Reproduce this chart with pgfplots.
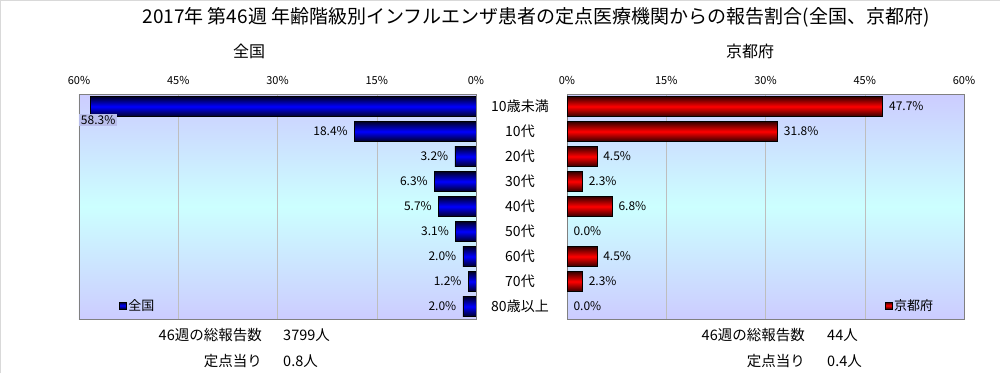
\documentclass[border=0pt]{standalone}
\usepackage{pgfplots}
\pgfplotsset{compat=1.18}
\usepackage{fontspec}
\setmainfont{Noto Sans CJK JP}
\definecolor{lav}{RGB}{204,204,255}
\definecolor{cyn}{RGB}{204,255,255}
\definecolor{gridc}{RGB}{190,190,190}
\definecolor{framec}{RGB}{128,128,128}
\pgfplotsset{
  panel/.style={
    scale only axis, width=397pt, height=225pt,
    xbar, bar width=20pt, bar shift=0pt,
    xmin=0, xmax=60, ymin=-0.5, ymax=8.5, y dir=reverse,
    xtick={0,15,30,45,60},
    xticklabels={0\%,15\%,30\%,45\%,60\%},
    xticklabel pos=upper,
    xticklabel style={font=\fontsize{11}{11}\selectfont, yshift=6pt},
    ytick={0,...,8},
    major tick length=0pt,
    xmajorgrids, grid style={gridc},
    axis line style={framec},
    axis background/.style={top color=lav, bottom color=lav, middle color=cyn},
    /pgf/number format/assume math mode=true,
    point meta=x,
    nodes near coords={\pgfmathprintnumber[fixed,fixed zerofill,precision=1]{\pgfplotspointmeta}\%},
    every node near coord/.append style={font=\fontsize{12}{12}\selectfont, text=black},
    legend style={draw=none, fill=none, font=\fontsize{13}{13}\selectfont, inner sep=0pt,
      legend cell align=left},
  },
  lb/.style={draw=black, top color=blue!15!black, bottom color=blue!15!black, middle color=blue,
    every node near coord/.append style={anchor=east, xshift=-3pt}, forget plot},
  rb/.style={draw=black, top color=red!20!black, bottom color=red!20!black, middle color=red,
    every node near coord/.append style={anchor=west, xshift=3pt}, forget plot},
}
\begin{document}
\begin{tikzpicture}
\useasboundingbox (0,0) rectangle (1006pt,373pt);
\draw[black!15] (0.5pt,0pt) -- (0.5pt,372.5pt) -- (1000pt,372.5pt);
% Left panel
\begin{axis}[panel, at={(79pt,54pt)}, anchor=south west,
  x dir=reverse,
  yticklabel pos=right,
  yticklabels={10歳未満,10代,20代,30代,40代,50代,60代,70代,80歳以上},
  yticklabel style={anchor=center, xshift=44pt, font=\fontsize{14}{14}\selectfont},
  legend style={at={(0.1,0.06)}, anchor=west},
  legend image code/.code={\draw[fill=blue, draw=black] (0pt,-3.5pt) rectangle (7pt,3.5pt);},
]
\addplot[lb, forget plot=false,
  every node near coord/.append style={anchor=north west, xshift=-8pt, yshift=-7pt,
    fill={rgb,255:red,185;green,190;blue,235}, inner sep=1.5pt}]
  coordinates {(58.3,0)};
\addlegendentry{全国}
\addplot[lb] coordinates {(18.4,1)};
\addplot[lb] coordinates {(3.2,2)};
\addplot[lb] coordinates {(6.3,3)};
\addplot[lb] coordinates {(5.7,4)};
\addplot[lb] coordinates {(3.1,5)};
\addplot[lb] coordinates {(2.0,6)};
\addplot[lb] coordinates {(1.2,7)};
\addplot[lb] coordinates {(2.0,8)};
\end{axis}
% Right panel
\begin{axis}[panel, at={(567pt,54pt)}, anchor=south west,
  yticklabels={},
  legend style={at={(0.80,0.06)}, anchor=west},
  legend image code/.code={\draw[fill=red, draw=black] (0pt,-3.5pt) rectangle (7pt,3.5pt);},
]
\addplot[rb, forget plot=false] coordinates {(47.7,0)};
\addlegendentry{京都府}
\addplot[rb] coordinates {(31.8,1)};
\addplot[rb] coordinates {(4.5,2)};
\addplot[rb] coordinates {(2.3,3)};
\addplot[rb] coordinates {(6.8,4)};
\addplot[rb, draw=none] coordinates {(0.0,5)};
\addplot[rb] coordinates {(4.5,6)};
\addplot[rb] coordinates {(2.3,7)};
\addplot[rb, draw=none] coordinates {(0.0,8)};
\end{axis}
% Titles
\node[font=\fontsize{19}{19}\selectfont] at (536pt,356pt) {2017年 第46週 年齢階級別インフルエンザ患者の定点医療機関からの報告割合(全国、京都府)};
\node[font=\fontsize{16}{16}\selectfont] at (249pt,322pt) {全国};
\node[font=\fontsize{16}{16}\selectfont] at (750pt,322pt) {京都府};
% Footer
\begin{scope}[every node/.style={font=\fontsize{14.5}{14.5}\selectfont, inner sep=0pt}]
\node[anchor=east] at (262pt,38pt) {46週の総報告数};
\node[anchor=west] at (283pt,38pt) {3799人};
\node[anchor=east] at (262pt,12pt) {定点当り};
\node[anchor=west] at (283pt,12pt) {0.8人};
\node[anchor=east] at (805pt,38pt) {46週の総報告数};
\node[anchor=west] at (827pt,38pt) {44人};
\node[anchor=east] at (805pt,12pt) {定点当り};
\node[anchor=west] at (827pt,12pt) {0.4人};
\end{scope}
\end{tikzpicture}
\end{document}
